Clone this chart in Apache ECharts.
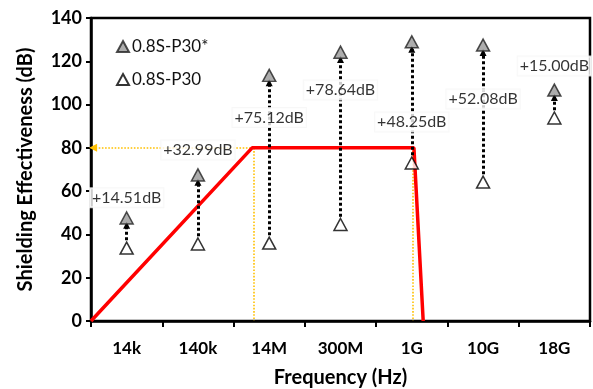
<!DOCTYPE html>
<html>
<head>
<meta charset="utf-8">
<script src="https://cdn.jsdelivr.net/npm/echarts@6/dist/echarts.min.js"></script>
<style>
  html, body { margin: 0; padding: 0; background: #fff; }
  #chart { width: 593px; height: 389px; }
</style>
</head>
<body>
<div id="chart"></div>
<script>
// frequency bands
const freqs = ['14k', '140k', '14M', '300M', '1G', '10G', '18G'];
// shielding effectiveness (dB)
const seStar = [47.6, 67.5, 113.5, 124.2, 129.0, 127.5, 106.7]; // 0.8S-P30*
const sePlain = [33.7, 35.6, 36.0, 44.6, 73.0, 64.2, 93.8];     // 0.8S-P30
// improvement annotations and the height they sit at
const gainText = ['+14.51dB', '+32.99dB', '+75.12dB', '+78.64dB', '+48.25dB', '+52.08dB', '+15.00dB'];
const gainY = [57, 79, 94, 106.7, 92, 102.6, 117.8];
// red requirement profile, x in category widths from the left axis
const limitX = [0, 2.26, 4.53, 4.66];
const limitY = [0, 80, 80, 0];

const FONT = 'Lato, "Open Sans", sans-serif';
const chart = echarts.init(document.getElementById('chart'));

const arrows = freqs.map((f, i) => [
  { coord: [f, sePlain[i] + 3.6] },
  { coord: [f, seStar[i] - 3.4] },
]);

const orange = { color: '#FFC000', type: 'dotted', width: 1.6 };

const option = {
  animation: false,
  textStyle: { fontFamily: FONT },
  grid: {
    left: 91, right: 3, top: 18, bottom: 68,
    outerBoundsMode: 'none',
    containLabel: false,
    show: true, borderColor: '#000', borderWidth: 2.5,
  },
  legend: {
    data: ['0.8S-P30*', '0.8S-P30'],
    orient: 'vertical',
    left: 111, top: 33,
    itemWidth: 12, itemHeight: 11, itemGap: 16,
    textStyle: { fontSize: 17, color: '#111', fontFamily: FONT, padding: [0, 0, 0, -2] },
  },
  xAxis: [
    {
      type: 'category',
      data: freqs,
      boundaryGap: true,
      axisLine: { lineStyle: { color: '#000', width: 2.5 } },
      axisTick: { show: true, interval: 0, length: 6, lineStyle: { color: '#000', width: 2 } },
      axisLabel: { color: '#000', fontWeight: 'bold', fontSize: 17, margin: 19, fontFamily: FONT },
      name: 'Frequency (Hz)',
      nameLocation: 'middle',
      nameGap: 47,
      nameTextStyle: { color: '#000', fontWeight: 'bold', fontSize: 20, fontFamily: FONT },
      splitLine: { show: false },
    },
    { type: 'value', min: 0, max: 7, show: false },
  ],
  yAxis: {
    type: 'value',
    min: 0, max: 140, interval: 20,
    axisLine: { show: true, lineStyle: { color: '#000', width: 2.5 } },
    axisTick: { show: true, length: 5, lineStyle: { color: '#000', width: 2 } },
    axisLabel: { color: '#000', fontWeight: 'bold', fontSize: 18, margin: 9, fontFamily: FONT },
    splitLine: { show: false },
    name: 'Shielding Effectiveness (dB)',
    nameLocation: 'middle',
    nameGap: 55,
    nameTextStyle: { color: '#000', fontWeight: 'bold', fontSize: 20, fontFamily: FONT },
  },
  series: [
    {
      name: 'limit',
      type: 'line',
      xAxisIndex: 1,
      data: limitX.map((x, i) => [x, limitY[i]]),
      symbol: 'none',
      lineStyle: { color: '#ff0000', width: 3.5 },
      z: 3,
      markLine: {
        silent: true,
        symbol: ['none', 'none'],
        label: { show: false },
        z: 2,
        data: [
          [{ coord: [2.24, 80], lineStyle: orange, symbol: 'none' },
           { coord: [0.03, 80], symbol: 'triangle', symbolSize: [8, 8], symbolRotate: 90 }],
          [{ coord: [2.29, 80], lineStyle: orange }, { coord: [2.29, 0] }],
          [{ coord: [4.52, 80], lineStyle: orange }, { coord: [4.52, 0] }],
        ],
      },
    },
    {
      name: '0.8S-P30',
      type: 'scatter',
      data: sePlain.map((v, i) => [freqs[i], v]),
      symbol: 'triangle',
      symbolSize: [13, 12],
      itemStyle: { color: '#fff', borderColor: '#000', borderWidth: 1.5 },
      z: 5,
      markLine: {
        silent: true,
        symbol: ['none', 'triangle'],
        symbolSize: [7, 7],
        label: { show: false },
        lineStyle: { color: '#000', type: [3, 2.5], width: 3 },
        data: arrows,
      },
    },
    {
      name: '0.8S-P30*',
      type: 'scatter',
      data: seStar.map((v, i) => [freqs[i], v]),
      symbol: 'triangle',
      symbolSize: [13, 12],
      itemStyle: { color: '#999', borderColor: '#222', borderWidth: 1.5 },
      z: 5,
    },
    {
      name: 'gain',
      type: 'scatter',
      data: gainY.map((v, i) => [freqs[i], v]),
      symbolSize: 0,
      z: 10,
      label: {
        show: true,
        position: 'inside',
        formatter: (p) => gainText[p.dataIndex],
        color: '#000',
        fontSize: 16,
        fontFamily: FONT,
        backgroundColor: '#fff',
        borderColor: '#f5f5f5',
        borderWidth: 1,
        padding: [2, 2, 1, 2],
      },
    },
  ],
};

chart.setOption(option);
</script>
</body>
</html>
